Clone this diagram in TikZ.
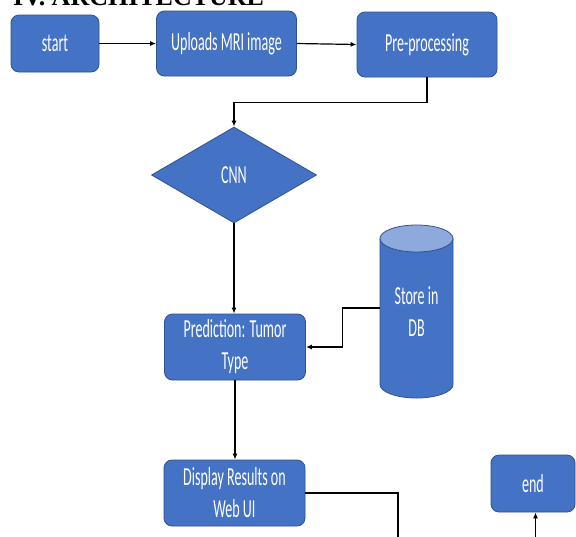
\documentclass[tikz,border=0pt]{standalone}
\usepackage{fontspec}
\usetikzlibrary{shapes.geometric,arrows.meta}
\newfontfamily\boxfont[FakeStretch=0.54]{Carlito}
\newfontfamily\titlefont{Liberation Serif}
\definecolor{boxblue}{HTML}{4472C4}
\definecolor{boxedge}{HTML}{2F528F}
\definecolor{toplight}{HTML}{8EA9DB}
\tikzset{
  flowbox/.style={draw=boxedge, fill=boxblue, line width=0.8pt, rounded corners=8pt,
    text=white, font=\boxfont\fontsize{26}{32}\selectfont, align=center, inner sep=0pt},
  decision/.style={draw=boxedge, fill=boxblue, line width=0.8pt, diamond, inner sep=0pt,
    text=white, font=\boxfont\fontsize{26}{32}\selectfont},
  conn/.style={draw=black, line width=1.2pt},
  arr/.style={conn, -{Latex[length=6pt,width=5pt]}}
}
\begin{document}
\begin{tikzpicture}[x=1pt,y=-1pt]
\useasboundingbox (0,0) rectangle (576,536);
\clip (0,0) rectangle (576,536);
\fill[white] (0,0) rectangle (576,536);
% title (cut off at top)
\node[anchor=base west, inner sep=0pt, font=\titlefont\bfseries\fontsize{26}{30}\selectfont] (title) at (13,5) {IV.\ ARCHITECTURE};
% nodes
\node[flowbox, minimum width=88pt, minimum height=57pt] (start) at (55,43.5) {start};
\node[flowbox, minimum width=140pt, minimum height=65pt] (upload) at (226.5,43.5) {Uploads MRI image};
\node[flowbox, minimum width=140pt, minimum height=65pt] (pre) at (427,44.5) {Pre-processing};
\node[decision, minimum width=165pt, minimum height=96pt] (cnn) at (234,175) {CNN};
\node[flowbox, minimum width=141pt, minimum height=66pt] (pred) at (235,347) {Prediction: Tumor\\Type};
\node[flowbox, minimum width=141pt, minimum height=66pt] (disp) at (234.5,493) {Display Results on\\Web UI};
\node[flowbox, minimum width=84pt, minimum height=57pt] (end) at (533,483.5) {end};
% database cylinder
\fill[boxblue] (380,238.5) -- (380,384.5) arc(180:0:36.5 and 13.5) -- (453,238.5) -- cycle;
\draw[boxedge, line width=0.8pt] (380,238.5) -- (380,384.5) arc(180:0:36.5 and 13.5) -- (453,238.5);
\draw[boxedge, fill=toplight, line width=0.8pt] (416.5,238.5) ellipse (36.5 and 13.5);
\node[inner sep=0pt, minimum width=73pt, minimum height=173pt, text=white, align=center,
  font=\boxfont\fontsize{26}{32}\selectfont] (db) at (416.5,311.5) {Store in\\DB};
% off-page coordinates
\coordinate (offb) at (398,545);
\coordinate (offe) at (535.5,545);
% connectors
\draw[arr] (start.east) -- (upload.west);
\draw[arr] (upload.east) -- (pre.west);
\draw[arr] (pre.south) -- ++(0,25) -| (cnn.north);
\draw[arr] (cnn.south) -- (cnn.south |- pred.north);
\draw[arr] ([yshift=3.5pt]db.west) -- ++(-37,0) |- (pred.east);
\draw[arr] (pred.south) -- (pred.south |- disp.north);
\draw[conn] (disp.east) -| (offb);
\draw[arr] (offe) -- (offe |- end.south);
\end{tikzpicture}
\end{document}
